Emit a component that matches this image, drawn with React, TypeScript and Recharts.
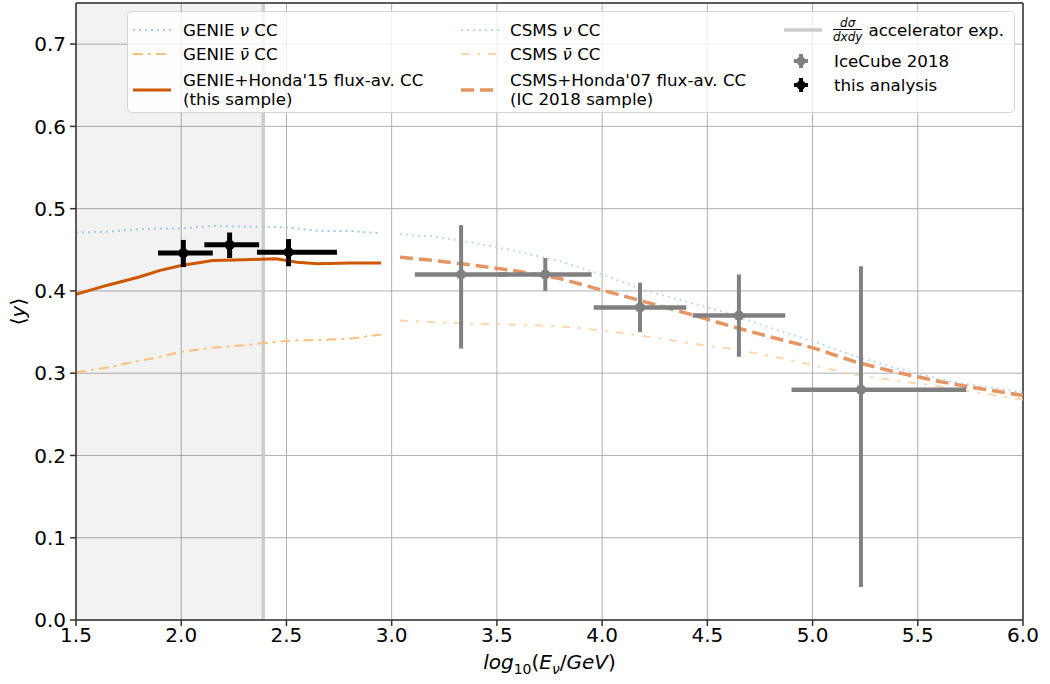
import React from "react";
import {
  ComposedChart,
  Line,
  Scatter,
  ErrorBar,
  XAxis,
  YAxis,
  CartesianGrid,
  ReferenceArea,
  ReferenceLine,
  Legend,
  Label,
} from "recharts";

const FONT = "'DejaVu Sans', sans-serif";

const X_TICKS = [1.5, 2.0, 2.5, 3.0, 3.5, 4.0, 4.5, 5.0, 5.5, 6.0];
const Y_TICKS = [0, 0.1, 0.2, 0.3, 0.4, 0.5, 0.6, 0.7];

// upper edge of the accelerator-measurement region
const ACCEL_EDGE = 2.39;

// GENIE curves, low energy part
const genieX = [1.5, 1.65, 1.8, 1.9, 2.0, 2.15, 2.3, 2.45, 2.55, 2.65, 2.8, 2.95];
const genieNu = [0.471, 0.472, 0.475, 0.476, 0.476, 0.479, 0.478, 0.478, 0.476, 0.473, 0.473, 0.47];
const genieNuBar = [0.301, 0.307, 0.315, 0.32, 0.326, 0.331, 0.334, 0.338, 0.34, 0.34, 0.342, 0.347];
const genieFlux = [0.396, 0.407, 0.417, 0.425, 0.431, 0.437, 0.438, 0.439, 0.435, 0.433, 0.434, 0.434];

// CSMS curves, high energy part
const csmsX = [3.04, 3.2, 3.4, 3.6, 3.8, 4.0, 4.2, 4.4, 4.6, 4.8, 5.0, 5.2, 5.4, 5.6, 5.8, 6.0];
const csmsNu = [0.469, 0.466, 0.458, 0.448, 0.436, 0.42, 0.401, 0.387, 0.373, 0.355, 0.339, 0.321, 0.306, 0.293, 0.284, 0.277];
const csmsNuBar = [0.364, 0.362, 0.36, 0.359, 0.357, 0.352, 0.345, 0.337, 0.33, 0.321, 0.31, 0.298, 0.291, 0.284, 0.276, 0.268];
const csmsFlux = [0.441, 0.437, 0.431, 0.424, 0.415, 0.401, 0.387, 0.373, 0.358, 0.344, 0.331, 0.314, 0.301, 0.29, 0.281, 0.273];

// IceCube 2018
const icX = [3.33, 3.73, 4.18, 4.65, 5.23];
const icY = [0.42, 0.42, 0.38, 0.37, 0.28];
const icXLo = [3.11, 3.51, 3.96, 4.43, 4.9];
const icXHi = [3.55, 3.95, 4.4, 4.87, 5.73];
const icYLo = [0.33, 0.4, 0.35, 0.32, 0.04];
const icYHi = [0.48, 0.44, 0.41, 0.42, 0.43];

// this analysis
const taX = [2.01, 2.23, 2.51];
const taY = [0.446, 0.456, 0.447];
const taXLo = [1.89, 2.11, 2.36];
const taXHi = [2.15, 2.37, 2.74];
const taYLo = [0.429, 0.44, 0.43];
const taYHi = [0.462, 0.471, 0.463];

const C = {
  genieNu: "#9ecae9",
  csmsNu: "#bcdaf3",
  genieNuBar: "#fdbf7a",
  csmsNuBar: "#ffd6ae",
  genieFlux: "#cf5700",
  csmsFlux: "#e5955f",
  accel: "#cccccc",
  ic: "#808080",
  ta: "#000000",
  grid: "#b0b0b0",
  spine: "#333333",
};

const curve = (xs: number[], ys: number[]) => xs.map((x, i) => ({ x, y: ys[i] }));

const points = (xs: number[], ys: number[], xlo: number[], xhi: number[], ylo: number[], yhi: number[]) =>
  xs.map((x, i) => ({
    x,
    y: ys[i],
    xe: [x - xlo[i], xhi[i] - x],
    ye: [ys[i] - ylo[i], yhi[i] - ys[i]],
  }));

const icData = points(icX, icY, icXLo, icXHi, icYLo, icYHi);
const taData = points(taX, taY, taXLo, taXHi, taYLo, taYHi);

const LineHandle = ({ stroke, dash, w }: { stroke: string; dash?: string; w: number }) => (
  <svg width={38} height={10} style={{ display: "block" }}>
    <line x1={0} y1={5} x2={38} y2={5} stroke={stroke} strokeWidth={w} strokeDasharray={dash} />
  </svg>
);

const PointHandle = ({ color }: { color: string }) => (
  <svg width={16} height={16} style={{ display: "block" }}>
    <line x1={8} y1={1} x2={8} y2={15} stroke={color} strokeWidth={4} />
    <line x1={1} y1={8} x2={15} y2={8} stroke={color} strokeWidth={4} />
    <circle cx={8} cy={8} r={4.5} fill={color} />
  </svg>
);

const at = (left: number, center: number, h = 20): React.CSSProperties => ({
  position: "absolute",
  left,
  top: center - h / 2,
  height: h,
  lineHeight: `${h}px`,
  whiteSpace: "nowrap",
  display: "flex",
  alignItems: "center",
});

const nuBar = "\u03bd\u0304";

function LegendBox() {
  return (
    <div
      style={{
        position: "relative",
        width: 888,
        height: 102,
        boxSizing: "border-box",
        border: "1px solid #d5d5d5",
        borderRadius: 5,
        background: "rgba(255,255,255,0.8)",
        fontFamily: FONT,
        fontSize: 16.7,
        color: "#000",
      }}
    >
      {/* column 1 */}
      <div style={at(5, 18)}><LineHandle stroke={C.genieNu} dash="2 4" w={2} /></div>
      <div style={at(55, 18)}>GENIE&nbsp;<i>ν</i>&nbsp;CC</div>
      <div style={at(5, 42)}><LineHandle stroke={C.genieNuBar} dash="10 5 3 5" w={2} /></div>
      <div style={at(55, 42)}>GENIE&nbsp;<i>{nuBar}</i>&nbsp;CC</div>
      <div style={at(5, 78)}><LineHandle stroke={C.genieFlux} w={3} /></div>
      <div style={at(55, 68)}>GENIE+Honda'15 flux-av. CC</div>
      <div style={at(55, 87)}>(this sample)</div>

      {/* column 2 */}
      <div style={at(333, 18)}><LineHandle stroke={C.csmsNu} dash="2 4" w={2} /></div>
      <div style={at(382, 18)}>CSMS&nbsp;<i>ν</i>&nbsp;CC</div>
      <div style={at(333, 42)}><LineHandle stroke={C.csmsNuBar} dash="8 8 3 8" w={2} /></div>
      <div style={at(382, 42)}>CSMS&nbsp;<i>{nuBar}</i>&nbsp;CC</div>
      <div style={at(333, 78)}><LineHandle stroke={C.csmsFlux} dash="13 6" w={3.5} /></div>
      <div style={at(382, 68)}>CSMS+Honda'07 flux-av. CC</div>
      <div style={at(382, 87)}>(IC 2018 sample)</div>

      {/* column 3 */}
      <div style={at(656, 18)}><LineHandle stroke={C.accel} w={3.5} /></div>
      <div style={at(705, 18, 30)}>
        <span
          style={{
            display: "inline-flex",
            flexDirection: "column",
            alignItems: "center",
            fontSize: 12,
            lineHeight: "12px",
            fontStyle: "italic",
          }}
        >
          <span>dσ</span>
          <span style={{ borderTop: "1px solid #000", paddingTop: 1 }}>dxdy</span>
        </span>
        <span style={{ marginLeft: 6 }}>accelerator exp.</span>
      </div>
      <div style={at(665, 49, 16)}><PointHandle color={C.ic} /></div>
      <div style={at(706, 49)}>IceCube 2018</div>
      <div style={at(665, 73, 16)}><PointHandle color={C.ta} /></div>
      <div style={at(706, 73)}>this analysis</div>
    </div>
  );
}

const XLabel = (props: any) => {
  const { x, y, width } = props.viewBox;
  return (
    <text x={x + width / 2} y={y + 49} textAnchor="middle" fontFamily={FONT} fontSize={20} fill="#000">
      <tspan fontStyle="italic">log</tspan>
      <tspan fontSize={14} dy={5}>10</tspan>
      <tspan dy={-5}>(</tspan>
      <tspan fontStyle="italic">E</tspan>
      <tspan fontStyle="italic" fontSize={14} dy={5}>ν</tspan>
      <tspan dy={-5}>/</tspan>
      <tspan fontStyle="italic">GeV</tspan>
      <tspan>)</tspan>
    </text>
  );
};

const YLabel = (props: any) => {
  const { x, y, height } = props.viewBox;
  const cx = x + 18;
  const cy = y + height / 2;
  return (
    <text
      x={cx}
      y={cy}
      transform={`rotate(-90 ${cx} ${cy})`}
      textAnchor="middle"
      dominantBaseline="central"
      fontFamily={FONT}
      fontSize={20}
      fill="#000"
    >
      ⟨<tspan fontStyle="italic">y</tspan>⟩
    </text>
  );
};

const dot = (color: string) => (p: any) => <circle cx={p.cx} cy={p.cy} r={5} fill={color} />;

export default function App() {
  const tick = { fill: "#000", fontSize: 20, fontFamily: FONT };
  return (
    <div style={{ position: "absolute", left: 0, top: 0, width: 1050, height: 684, background: "#fff" }}>
      <ComposedChart
        width={1050}
        height={684}
        margin={{ top: 3, right: 27, bottom: 0, left: 0 }}
        style={{ fontFamily: FONT }}
      >
        <ReferenceArea
          x1={1.5}
          x2={ACCEL_EDGE}
          y1={0}
          y2={0.75}
          fill="#000"
          fillOpacity={0.052}
          stroke="none"
          ifOverflow="hidden"
        />
        <CartesianGrid stroke={C.grid} strokeWidth={1} />
        <XAxis
          dataKey="x"
          type="number"
          domain={[1.5, 6]}
          ticks={X_TICKS}
          allowDataOverflow
          height={64}
          tick={tick}
          tickFormatter={(v: number) => v.toFixed(1)}
          tickSize={6}
          tickMargin={2}
          stroke={C.spine}
          strokeWidth={1.5}
          interval={0}
        >
          <Label content={XLabel} />
        </XAxis>
        <YAxis
          dataKey="y"
          type="number"
          domain={[0, 0.75]}
          ticks={Y_TICKS}
          allowDataOverflow
          width={76}
          tick={tick}
          tickFormatter={(v: number) => v.toFixed(1)}
          tickSize={6}
          tickMargin={4}
          stroke={C.spine}
          strokeWidth={1.5}
          interval={0}
        >
          <Label content={YLabel} />
        </YAxis>
        <ReferenceLine x={ACCEL_EDGE} stroke={C.accel} strokeWidth={3.5} />
        <ReferenceLine y={0.75} stroke={C.spine} strokeWidth={1.5} />
        <ReferenceLine x={6} stroke={C.spine} strokeWidth={1.5} />

        <Line data={curve(genieX, genieNu)} dataKey="y" type="linear" stroke={C.genieNu} strokeWidth={2} strokeDasharray="2 4" dot={false} isAnimationActive={false} />
        <Line data={curve(genieX, genieNuBar)} dataKey="y" type="linear" stroke={C.genieNuBar} strokeWidth={2} strokeDasharray="10 5 3 5" dot={false} isAnimationActive={false} />
        <Line data={curve(csmsX, csmsNu)} dataKey="y" type="linear" stroke={C.csmsNu} strokeWidth={2} strokeDasharray="2 4" dot={false} isAnimationActive={false} />
        <Line data={curve(csmsX, csmsNuBar)} dataKey="y" type="linear" stroke={C.csmsNuBar} strokeWidth={2} strokeDasharray="8 8 3 8" dot={false} isAnimationActive={false} />
        <Line data={curve(genieX, genieFlux)} dataKey="y" type="linear" stroke={C.genieFlux} strokeWidth={3} dot={false} isAnimationActive={false} />
        <Line data={curve(csmsX, csmsFlux)} dataKey="y" type="linear" stroke={C.csmsFlux} strokeWidth={3.5} strokeDasharray="13 6" dot={false} isAnimationActive={false} />

        <Scatter data={icData} dataKey="y" shape={dot(C.ic)} isAnimationActive={false}>
          <ErrorBar dataKey="xe" direction="x" width={0} stroke={C.ic} strokeWidth={4.5} isAnimationActive={false} />
          <ErrorBar dataKey="ye" direction="y" width={0} stroke={C.ic} strokeWidth={4} isAnimationActive={false} />
        </Scatter>
        <Scatter data={taData} dataKey="y" shape={dot(C.ta)} isAnimationActive={false}>
          <ErrorBar dataKey="xe" direction="x" width={0} stroke={C.ta} strokeWidth={5} isAnimationActive={false} />
          <ErrorBar dataKey="ye" direction="y" width={0} stroke={C.ta} strokeWidth={5} isAnimationActive={false} />
        </Scatter>

        <Legend
          layout="vertical"
          align="center"
          verticalAlign="middle"
          content={() => <LegendBox />}
          wrapperStyle={{ left: 127, top: 11, width: 888, height: 102 }}
        />
      </ComposedChart>
    </div>
  );
}
